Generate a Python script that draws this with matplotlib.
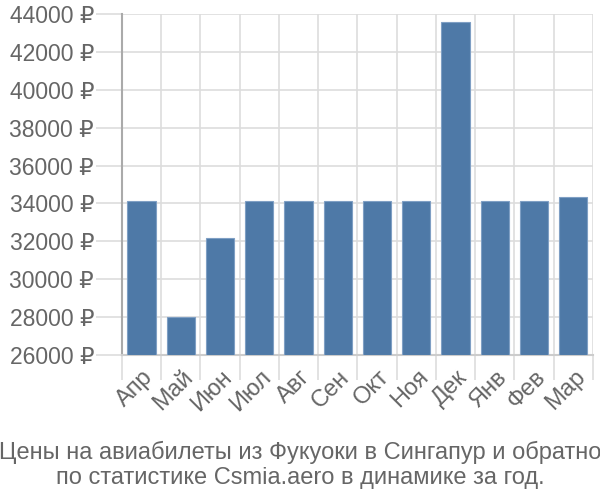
import matplotlib
matplotlib.use("Agg")
import matplotlib.pyplot as plt
import numpy as np

plt.rcParams['font.family'] = ['Liberation Sans', 'DejaVu Sans']

months = ["Апр", "Май", "Июн", "Июл", "Авг", "Сен", "Окт", "Ноя", "Дек", "Янв", "Фев", "Мар"]
prices = [34150, 28000, 32190, 34150, 34150, 34150, 34150, 34150, 43560, 34150, 34150, 34340]
yticks = list(range(26000, 44001, 2000))
title = "Цены на авиабилеты из Фукуоки в Сингапур и обратно\nпо статистике Csmia.aero в динамике за год."

fig = plt.figure(figsize=(6, 5), dpi=100)
ax = fig.add_axes([0.203, 0.29, 0.785, 0.682])

x = np.arange(len(months))
ax.bar(x, [p - 26000 for p in prices], bottom=26000, width=0.72,
       color="#4e79a7", edgecolor="#7f9fc4", linewidth=0.8, zorder=3)

ax.set_xlim(-0.5, len(months) - 0.5)
ax.set_ylim(26000, 44000)
ax.set_yticks(yticks)
ax.set_yticklabels([f"{v} ₽" for v in yticks])
ax.set_xticks(x + 0.02)
ax.set_xticklabels(months, rotation=45, ha="right", rotation_mode="anchor")
ax.set_xticks(np.arange(len(months) + 1) - 0.5, minor=True)

ax.grid(False)
ax.grid(True, which="minor", axis="x", color="#dddddd", linewidth=1.2, zorder=0)
ax.grid(True, which="major", axis="y", color="#dddddd", linewidth=1.2, zorder=0)

ax.tick_params(axis="y", which="major", length=19, color="#dddddd", width=1.2,
               labelsize=16.5, labelcolor="#666666", pad=1)
ax.tick_params(axis="x", which="major", length=0, labelsize=17, labelcolor="#666666", pad=8)
ax.tick_params(axis="x", which="minor", length=18, color="#dddddd", width=1.2)

for s in ["top", "right"]:
    ax.spines[s].set_visible(False)
ax.spines["left"].set_color("#aaaaaa")
ax.spines["left"].set_linewidth(1.5)
ax.spines["bottom"].set_color("#cccccc")
ax.spines["bottom"].set_linewidth(1.5)

fig.text(0.5, 0.022, title, ha="center", va="bottom", fontsize=17, color="#666666", linespacing=1.15)

fig.savefig("out.png", dpi=100)
